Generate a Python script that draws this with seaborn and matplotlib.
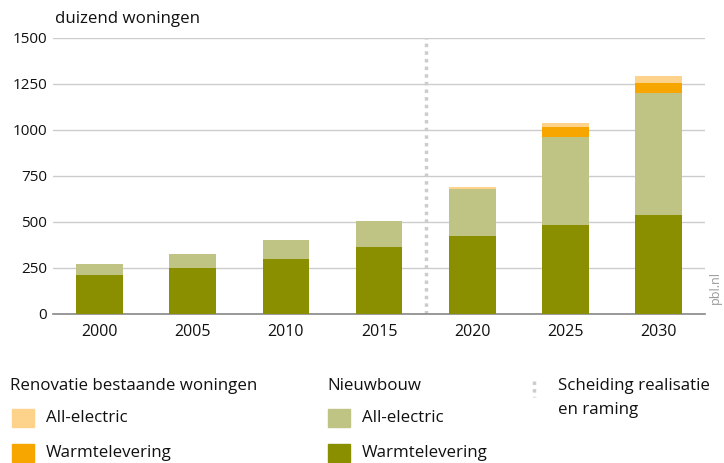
import numpy as np
import pandas as pd
import seaborn as sns
import matplotlib.pyplot as plt
from matplotlib.patches import Rectangle
from matplotlib.lines import Line2D

# data (duizend woningen)
years = ['2000', '2005', '2010', '2015', '2020', '2025', '2030']
nieuw_warmte = [212, 250, 300, 365, 425, 485, 540]
nieuw_electric = [60, 77, 103, 138, 256, 479, 660]
renov_warmte = [0, 0, 0, 0, 0, 54, 55]
renov_electric = [0, 0, 0, 2, 11, 22, 40]

c_nieuw_warmte = '#8a8f00'
c_nieuw_electric = '#bfc484'
c_renov_warmte = '#f7a600'
c_renov_electric = '#fdd28b'

sns.set_style('white')
plt.rcParams['font.family'] = ['Open Sans', 'DejaVu Sans']

df = pd.DataFrame({
    'jaar': years,
    'nw': nieuw_warmte,
    'ne': nieuw_electric,
    'rw': renov_warmte,
    're': renov_electric,
})
df['l1'] = df['nw']
df['l2'] = df['l1'] + df['ne']
df['l3'] = df['l2'] + df['rw']
df['l4'] = df['l3'] + df['re']

fig = plt.figure(figsize=(7.24, 4.63), dpi=100)
ax = fig.add_axes([0.073, 0.322, 0.901, 0.596])

# stacked bars: draw cumulative totals from top layer down
for col, color in [('l4', c_renov_electric), ('l3', c_renov_warmte),
                   ('l2', c_nieuw_electric), ('l1', c_nieuw_warmte)]:
    sns.barplot(data=df, x='jaar', y=col, color=color, saturation=1,
                width=0.5, linewidth=0, edgecolor='none', ax=ax, zorder=3)

ax.set_ylim(0, 1500)
ax.set_yticks([0, 250, 500, 750, 1000, 1250, 1500])
ax.set_xlim(-0.5, 6.5)
ax.yaxis.grid(True, color='#cccccc', lw=1, zorder=0)
ax.set_axisbelow(True)
ax.set_xlabel('')
ax.set_ylabel('')
for s in ['top', 'right', 'left']:
    ax.spines[s].set_visible(False)
ax.spines['bottom'].set_color('#888888')
ax.spines['bottom'].set_linewidth(1.2)
ax.tick_params(axis='both', length=0, labelsize=11, colors='#111111')
ax.tick_params(axis='x', pad=7, labelsize=11.5)
ax.tick_params(axis='y', pad=4)

# scheiding realisatie / raming
ax.axvline(3.5, color='#cccccc', lw=2.5, linestyle=(0, (1, 1.2)), zorder=1)

fig.text(0.076, 0.96, 'duizend woningen', fontsize=12.2, color='#111111', va='center')
fig.text(0.988, 0.38, 'pbl.nl', rotation=90, fontsize=9, color='#999999',
         ha='center', va='center')

# legend drawn by hand
def swatch(x, y, color):
    fig.patches.append(Rectangle((x / 724, 1 - (y + 9) / 463), 22 / 724, 18 / 463,
                                 transform=fig.transFigure, color=color))

def label(x, y, txt):
    fig.text(x / 724, 1 - y / 463, txt, fontsize=12.2, color='#111111', va='center')

label(10, 386, 'Renovatie bestaande woningen')
swatch(12, 418, c_renov_electric)
label(46, 418, 'All-electric')
swatch(12, 453, c_renov_warmte)
label(46, 453, 'Warmtelevering')

label(327, 386, 'Nieuwbouw')
swatch(328, 418, c_nieuw_electric)
label(362, 418, 'All-electric')
swatch(328, 453, c_nieuw_warmte)
label(362, 453, 'Warmtelevering')

fig.lines.append(Line2D([534 / 724, 534 / 724], [1 - 381 / 463, 1 - 397 / 463],
                        transform=fig.transFigure, color='#cccccc', lw=2.5,
                        linestyle=(0, (1, 1.2))))
label(558, 386, 'Scheiding realisatie')
label(558, 410, 'en raming')

fig.savefig('out.png', dpi=100)
